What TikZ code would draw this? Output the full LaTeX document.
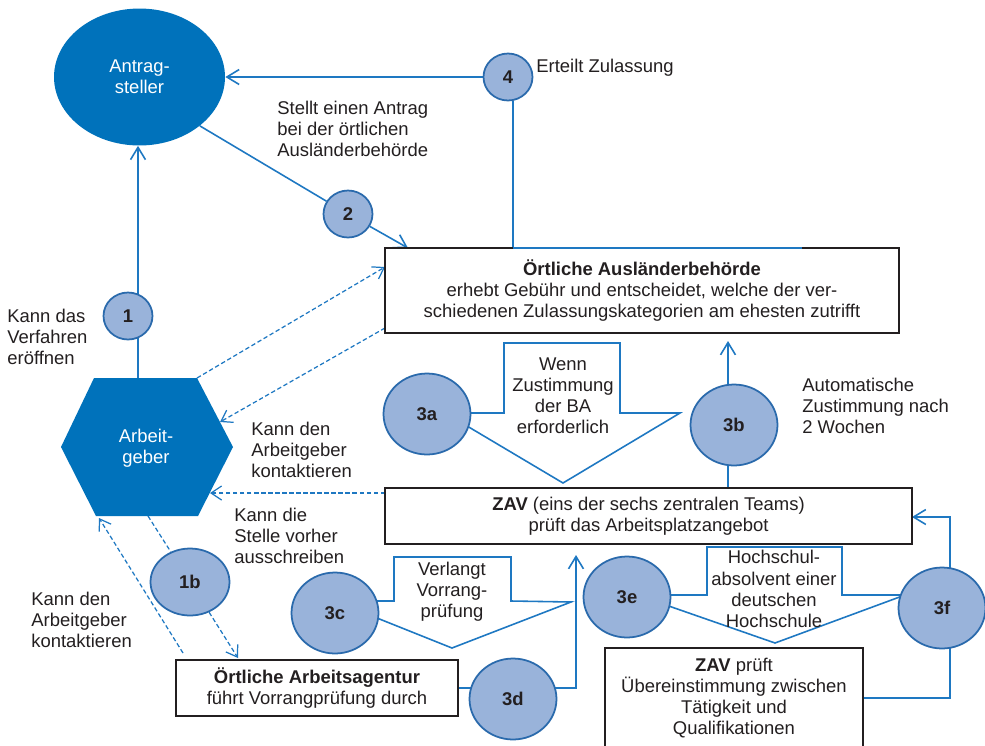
\documentclass[tikz,border=0pt]{standalone}
\usepackage{fontspec}
\setmainfont{Liberation Sans}
\usetikzlibrary{shapes.geometric,arrows.meta}
\pgfdeclarelayer{bg}
\pgfsetlayers{bg,main}
\definecolor{dblue}{RGB}{0,114,187}
\definecolor{lblue}{RGB}{153,179,218}
\definecolor{cborder}{RGB}{42,106,172}
\definecolor{lineblue}{RGB}{30,120,194}
\definecolor{txt}{RGB}{35,31,32}
\tikzset{
 every node/.style={font=\fontsize{10.5}{12}\selectfont, text=txt},
 conn/.style={draw=lineblue, line width=0.9pt, line join=miter},
 arr/.style={conn, -{Straight Barb[length=7pt,width=8.5pt]}},
 dconn/.style={draw=lineblue, line width=0.7pt, dash pattern=on 2.5pt off 1.5pt},
 darr/.style={dconn, -{Straight Barb[length=6pt,width=8pt]}},
 numc/.style={ellipse, draw=cborder, fill=lblue, line width=1pt, inner sep=0pt, font=\fontsize{10.5}{12}\selectfont\bfseries},
 smallc/.style={numc, minimum width=0.98cm, minimum height=0.94cm},
 bigc/.style={numc, minimum width=1.74cm, minimum height=1.62cm},
 boxn/.style={draw=txt, fill=white, line width=0.8pt, align=center, inner sep=0pt},
 lbl/.style={align=left, anchor=west, inner sep=0pt},
 ctr/.style={align=center, inner sep=0pt},
}
\begin{document}
\begin{tikzpicture}[x=0.02cm,y=-0.02cm]
\useasboundingbox (0,0) rectangle (985,745);
\begin{pgfonlayer}{bg}
\fill[white] (0,0) rectangle (985,745);
\end{pgfonlayer}

% coordinates
\coordinate (h1) at (94,378);
\coordinate (h2) at (197,378);
\coordinate (h3) at (233,447);
\coordinate (h4) at (198,516);
\coordinate (h5) at (96,516);
\coordinate (h6) at (61,447);
\coordinate (hb) at (148,516);
\coordinate (agt) at (138,378);
\coordinate (c4) at (513,248);
\coordinate (c4e) at (802,248);
\coordinate (t2) at (408,248);
\coordinate (c3b) at (728,425);
\coordinate (t3b) at (728,341);
\coordinate (t3d) at (576,555);
\coordinate (c3f) at (950,608);
\coordinate (t3f) at (912,517);
\coordinate (da1) at (385,267);
\coordinate (db0) at (385,328);
\coordinate (db1) at (220,422);
\coordinate (dc0) at (385,493);
\coordinate (dc1) at (210,493);
\coordinate (dd1) at (238,658);
\coordinate (de0) at (183,653);
\coordinate (de1) at (99,518);

% main shapes
\node[ellipse, fill=dblue, minimum width=3.42cm, minimum height=2.74cm, inner sep=0pt, align=center, text=white] (ant) at (139.5,77) {Antrag-\\steller};
\fill[dblue] (h1) -- (h2) -- (h3) -- (h4) -- (h5) -- (h6) -- cycle;
\node[align=center, inner sep=0pt, text=white] (ag) at (146,448) {Arbeit-\\geber};

\node[boxn, minimum width=10.28cm, minimum height=1.70cm] (oab) at (642,290.5) {\textbf{Örtliche Ausländerbehörde}\\erhebt Gebühr und entscheidet, welche der ver-\\schiedenen Zulassungskategorien am ehesten zutrifft};
\node[boxn, minimum width=10.54cm, minimum height=1.12cm] (zav) at (648.5,516) {\textbf{ZAV} (eins der sechs zentralen Teams)\\prüft das Arbeitsplatzangebot};
\node[boxn, minimum width=5.64cm, minimum height=1.12cm] (aa) at (317,688) {\textbf{Örtliche Arbeitsagentur}\\führt Vorrangprüfung durch};
\node[boxn, minimum width=5.16cm, minimum height=2.0cm] (zp) at (734,698) {\textbf{ZAV} prüft\\Übereinstimmung zwischen\\Tätigkeit und\\Qualifikationen};

% numbered circles
\node[smallc] (n1) at (128,316) {1};
\node[smallc] (n2) at (348,214) {2};
\node[smallc] (n4) at (508,77) {4};
\node[numc, minimum width=1.58cm, minimum height=1.34cm] (n1b) at (190,582) {1b};
\node[bigc] (n3a) at (427,414) {3a};
\node[bigc] (n3b) at (734,425) {3b};
\node[bigc] (n3c) at (335,613) {3c};
\node[bigc] (n3d) at (513,699) {3d};
\node[bigc] (n3e) at (627,597) {3e};
\node[bigc] (n3f) at (942,608) {3f};

% labels
\node[lbl] (l2) at (277,129) {Stellt einen Antrag\\bei der örtlichen\\Ausländerbehörde};
\node[lbl] (l4) at (536,68) {Erteilt Zulassung};
\node[lbl] (l1) at (7,337) {Kann das\\Verfahren\\eröffnen};
\node[lbl] (lk1) at (251,450) {Kann den\\Arbeitgeber\\kontaktieren};
\node[lbl] (lk2) at (234,536) {Kann die\\Stelle vorher\\ausschreiben};
\node[lbl] (lk3) at (31,620) {Kann den\\Arbeitgeber\\kontaktieren};
\node[lbl] (l3b) at (802,406) {Automatische\\Zustimmung nach\\2 Wochen};
\node[ctr] (t3a) at (563,396) {Wenn\\Zustimmung\\der BA\\erforderlich};
\node[ctr] (t3c) at (452,592) {Verlangt\\Vorrang-\\prüfung};
\node[ctr] (t3e) at (774,589) {Hochschul-\\absolvent einer\\deutschen\\Hochschule};

% blue line on top of box
\draw[conn] (c4) -- (c4e);

\begin{pgfonlayer}{bg}
\draw[arr] (n4) -- (ant);
\draw[conn] (n4.south -| c4) -- (c4);
\draw[conn] (ant.-39) -- (n2);
\draw[arr] (n2) -- (t2);
\draw[arr] (agt) -- (agt |- ant.south);
\draw[arr] (c3b |- zav.north) -- (t3b);
\draw[conn] (aa.east) -- (aa.east -| n3d);
\draw[arr] (n3d.center |- aa.east) -- (t3d |- aa.east) -- (t3d);
\draw[arr] (c3f) -- (c3f |- t3f) -- (t3f);
\draw[conn] (zp.east) -- (zp.east -| c3f) -- (c3f);
% dashed
\draw[darr] (h2) -- (da1);
\draw[darr] (db0) -- (db1);
\draw[darr] (dc0) -- (dc1);
\draw[dconn] (hb) -- (n1b);
\draw[darr] (n1b) -- (dd1);
\draw[darr] (de0) -- (de1);
% arrow shapes
\draw[conn] (430,413) -- (504,413) -- (504,343) -- (620,343) -- (620,413) -- (680,413) -- (563,483) -- (462,423);
\draw[conn] (340,601) -- (394,601) -- (394,557) -- (511,557) -- (511,601) -- (571,602) -- (452,648) -- (372,616);
\draw[conn] (630,595) -- (707,595) -- (707,547) -- (842,547) -- (842,595) -- (905,595) -- (775,643) -- (663,604);
\end{pgfonlayer}
\end{tikzpicture}
\end{document}
